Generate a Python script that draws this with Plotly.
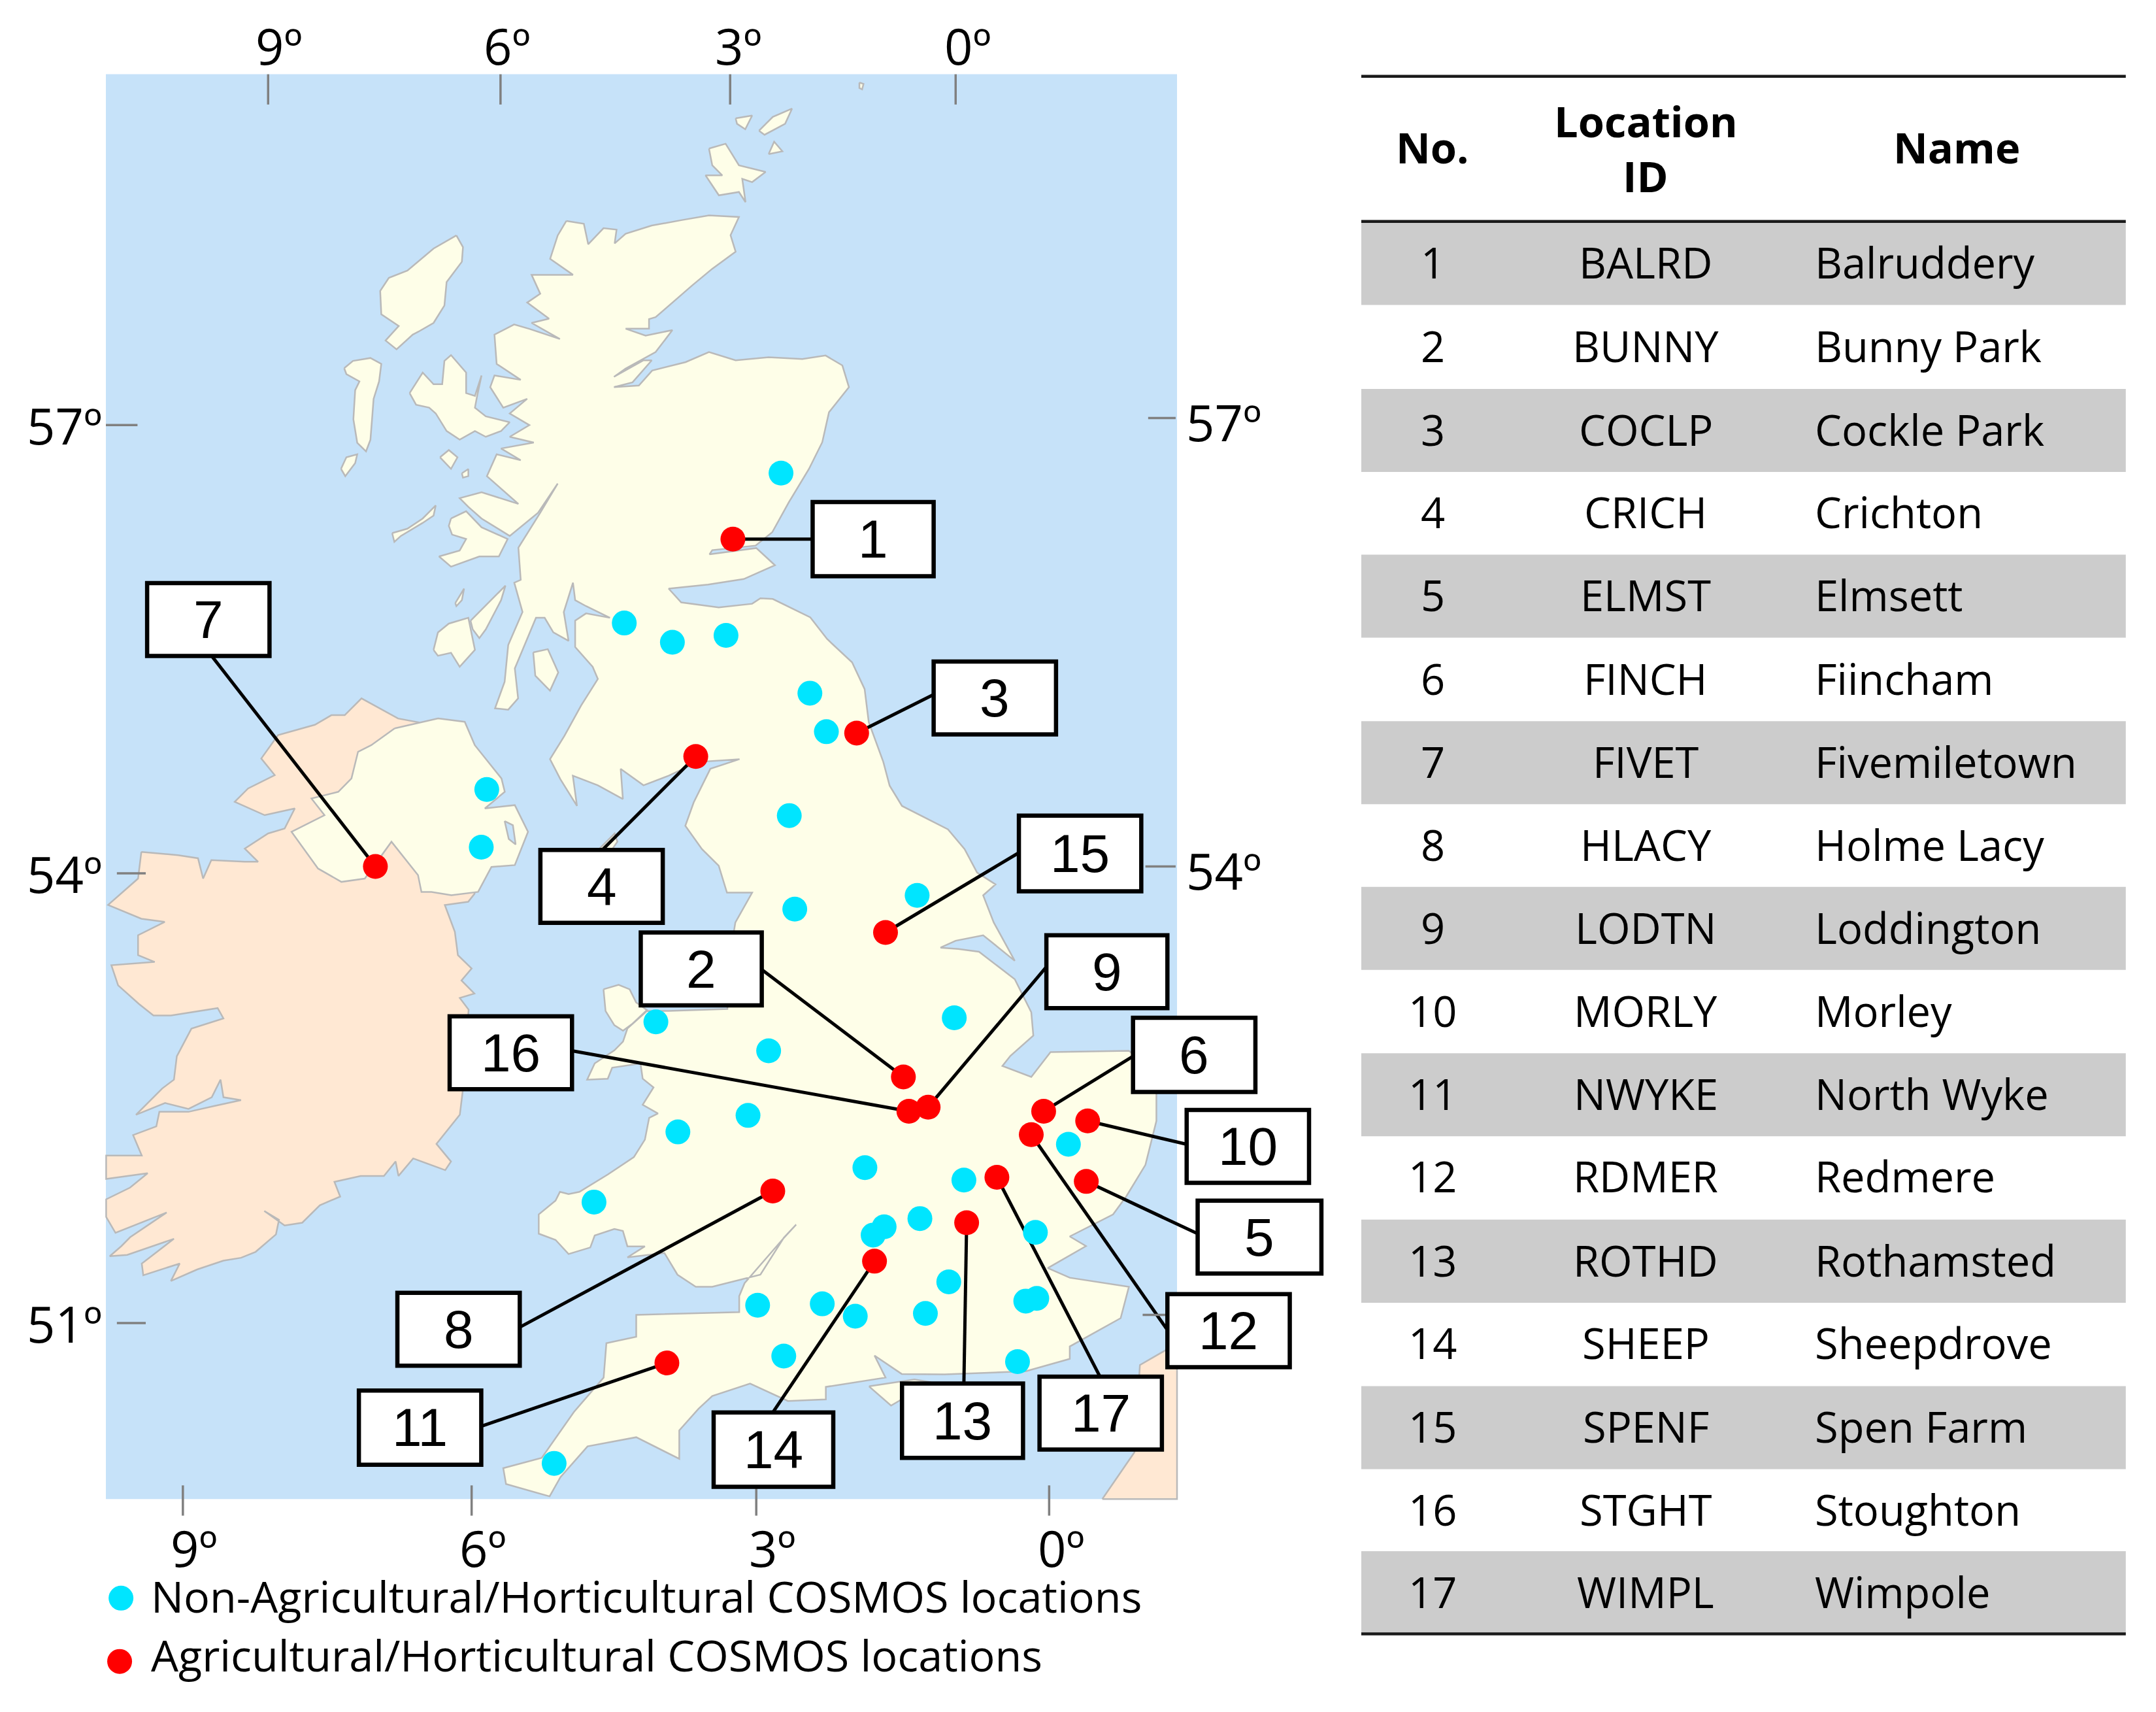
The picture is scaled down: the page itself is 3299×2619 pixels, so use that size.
import plotly.graph_objects as go

# everything is measured in picture units, 1 unit = 2.104 px of the 3299 x 2619 picture
W, H = 3283, 2603
UNIT = 2.104
OFFSET = 8 / UNIT  # the page keeps an 8 px margin around the figure

SEA = "#c6e2f9"
LAND = "#fefee8"
OTHER_LAND = "#ffe8d3"
COAST = "#b9b9b9"
TICK = "#808080"
CYAN = "#00e5ff"
RED = "#ff0000"
BOX_FONT = "Liberation Sans"
TEXT_FONT = "Open Sans"

mainland = [
    (411.9,160.6),(424.6,162.7),(427.8,177.6),(438.9,165.9),(448.4,167),(447,177),(455,170),(474,164),(496,160),
    (515.6,156.6),(537.4,157.8),(531.3,171),(535,183),(518,195.4),(503.4,207.5),(476.8,230.6),(472,232),(472,239),
    (455,239),(469.5,244),(489,240),(476.8,256),(455,268),(446.5,274),(468,262),(474,262),(460,278),(446.5,281.5),
    (464.6,280.3),(474.3,269.4),(498.6,263.3),(515.6,256),(535,262),(559,259.7),(583.5,261),(600.4,258.5),
    (612.6,265.7),(617.4,281.5),(602.9,299.7),(598,321.5),(588.3,341),(573.8,365),(561.6,387),(549.5,396.7),
    (518,400),(516,403),(550,398.5),(563.6,411),(540.9,421),(515,425),(486.3,428),(495.4,438),(522.7,441.6),
    (547,439),(553,435),(562,435.5),(589.3,448.9),(601.5,464.6),(619.7,481.6),(628.8,501),(631.8,525),(642.4,554),
    (647,571.3),(656,586),(689.4,603),(701.5,617.4),(710.6,634.4),(724,643),(715,651),(722.7,670.7),(738,698.6),
    (715,680),(695,684),(684,689),(697,690),(712,692),(738,712),(750,736),(751.5,753),(734.8,767.7),(729,775),
    (750,783),(764,765),(821,764),(841,779),(841,815),(833,847),(819,870),(809.5,883),(778,899),(789.8,906),
    (762,922),(778,929),(821,935.6),(815,958.4),(778,979),(778,988),(746,997),(687,999.3),(655.8,999),(636,985.6),
    (644,1001.6),(600.6,1008.4),(600.6,1017.5),(573,1018.6),(545.5,1006),(518,1015),(508,1024.3),(494,1040),
    (494,1060.7),(462.7,1045),(427.3,1051.6),(407.6,1074),(399.7,1088),(368,1079),(366,1067.5),(394,1060),
    (417.4,1026.6),(439,1001.6),(441,976.6),(462.7,972),(462.7,956),(537.6,954),(537.6,942.4),(541.5,933),
    (568.8,901.5),(579,890.4),(570,900),(553,926.8),(518,935.6),(506,935.6),(492.7,926.8),(483.2,911),(456.3,914.2),
    (469,906.2),(456.3,906.2),(453,895),(446.8,893.6),(432.5,898.3),(429.3,907),(413.5,911.8),(404,901.5),
    (391.8,897),(391.8,883),(404,873),(407.2,866.6),(413.5,868.2),(421.4,866.6),(442,854),(461,841.3),(469,828.6),
    (472.1,812.8),(478.5,809.6),(467.4,803.3),(475.3,790.6),(467.4,784.3),(465.8,773.2),(445.2,776.3),(442,784.3),
    (427,785),(432.5,773.2),(446.8,763.7),(453.1,757.3),(456.3,747.8),(470.5,735.1),(486.4,735),(529,733.6),
    (530,700),(534.8,670.7),(547,649),(528.7,649),(522.7,629.5),(510.5,617.4),(498.4,600.4),(504.5,583.4),
    (516.6,559),(537.8,552),(507.5,554),(486.3,564),(468,571),(451.4,559),(453,581),(434.8,571),(416.6,564),
    (419.6,586),(407.5,566.5),(400,552),(410.5,535),(422.6,513),(434.8,493.7),(431,484.8),(418.3,470.4),
    (418.3,451.3),(426.2,446),(443.6,449.2),(426.2,440.7),(418.3,436.4),(416.7,423.7),(410,445),(413.5,466),
    (402.4,459.8),(396.1,449.2),(389.8,449.2),(386.5,457),(374.4,486),(376.8,507.8),(369.6,516),(360,515),
    (367,495.7),(369.6,469),(380,445),(374,423.7),(378.7,421.6),(377,398.2),(392.9,372.8),(405.6,351.6),
    (391.3,372.8),(370.7,389.7),(350.2,377),(340.6,368.5),(334.3,362.2),(350.2,357.9),(377,366.4),(354.1,346.2),
    (361.2,330.3),(378.7,334.6),(364.4,326.1),(388.2,321.8),(370.7,317.6),(385,309.1),(370.7,300.6),(383.4,290),
    (366,296.4),(356.5,281.5),(359.6,273),(378.7,276.2),(361.2,264.6),(359.6,243.3),(373.9,235.9),(385,239.1),
    (407.2,246.5),(386.6,234.8),(399.3,231.7),(383.4,220),(392.9,213.6),(386.6,199.8),(416.7,199.8),(400.1,188.2),
    (405.6,171.2),(411.9,160.6),
]

islands = [
    # Lewis and Harris
    [(331.9,171.2),(336.7,179.7),(335.9,190.3),(324.8,205.1),(323.2,222.1),(315.3,234.8),(304.2,241.2),(300.2,243.3),
     (288.4,254),(280.4,247.6),(290,237),(277.3,228.5),(276.5,211.5),(282.8,202),(296.3,196.7),(315.3,180.7),(331.9,171.2)],
    # Uists
    [(250.3,267.7),(256.7,262.4),(269.4,260.3),(277.3,264.6),(275.7,277.3),(271.7,290),(270.9,300.6),(269.4,319.7),
     (266.2,328.2),(259.8,321.9),(257,304.9),(258.3,283.7),(261.4,277.3),(251.9,272),(250.3,267.7)],
    # Barra
    [(248,340.9),(251.9,332.5),(259.8,330.3),(258.3,336.7),(251.1,346.2),(248,340.9)],
    # Skye
    [(297.9,285.8),(307.4,270.9),(315.3,279.4),(321.6,279.4),(323.2,262.4),(328,258.2),(339,270.9),(339,285.8),
     (345.4,287.9),(350.2,273),(347,287.9),(345.4,296.4),(353.3,302.7),(370.7,307),(364.4,313.4),(353.3,317.6),
     (345.4,313.4),(334.3,319.7),(324.8,313.4),(316.9,300.6),(312.1,296.4),(302.6,294.3),(297.9,285.8)],
    # Rum, Eigg
    [(320,332.5),(326.4,327.2),(332.7,332.5),(328,340.9),(320,332.5)],
    [(335.9,344.1),(340.6,341),(340.6,346.2),(336.7,347.3),(335.9,344.1)],
    # Coll and Tiree
    [(285.2,387.6),(296.3,384.4),(307.4,377),(316.9,367.5),(315.3,374.9),(307.4,380.2),(291.5,389.7),(286.8,394),(285.2,387.6)],
    # Mull
    [(328,377),(339,371.7),(350.2,383.4),(369.2,391.9),(362.8,404.6),(348.6,404.6),(328,412),(319.3,404.6),(334.3,400.3),
     (339,391.9),(328.8,388.7),(326.4,382.3),(328,377)],
    # Colonsay, Islay, Jura, Arran
    [(331.1,438.5),(337.5,428),(335.9,436.4),(331.9,440.7),(331.1,438.5)],
    [(315.3,472.5),(318.5,459.8),(326.4,453.4),(340.6,449.2),(345.4,472.5),(334.3,484.8),(328,474.6),(318.5,476.8),(315.3,472.5)],
    [(342.2,451.3),(354.9,438.5),(367.6,425.8),(364.4,436.4),(353.3,457.6),(348.6,464),(343.8,457.6),(342.2,451.3)],
    [(387.8,474.3),(398.4,472),(406,488.9),(400,502.2),(389.3,491.3),(387.8,474.3)],
    # Man
    [(436,617),(447,606),(449,612),(440,625),(436,617)],
    # Anglesey
    [(438.9,719.3),(449.9,716.1),(457.9,719.3),(462.6,728.8),(470.5,734.4),(459.5,744.7),(453.1,749.4),(446.8,745.4),(440.4,735.1),(438.9,719.3)],
    # Wight
    [(632,1008),(665,1003),(677,1005),(648,1022),(632,1008)],
    # Orkney
    [(515.6,108),(527.7,104.5),(537.4,120.2),(556.8,125),(547,132.4),(539.8,130),(542.2,147),(537.4,139.6),(522.8,142),
     (513.1,127.5),(525.3,127.5),(518,120.2),(515.6,108)],
    [(535,86),(547,84),(542,94),(536,90),(535,86)],
    [(552,95),(562,85),(576,79),(571,90),(556,98),(552,95)],
    [(559,112),(563,103),(569,110),(559,112)],
    [(625,60),(628,61),(627,65),(625,64),(625,60)],
]

ireland = [
    (102.8,619.4),(129.5,621.8),(144,624),(147.7,638.8),(153.7,625.4),(178,626.6),(187.7,626.6),(178,617),(195,606),
    (207,602.4),(214.4,587.8),(192.5,592.7),(170.7,583),(180.4,573.3),(199.8,563.6),(190,551.5),(202.2,534.5),
    (229,527),(241,520),(250.7,520),(262.9,507.8),(289.5,522.4),(330,530),(360,600),(345,650),(340.5,655.7),
    (323.5,658),(330.8,677.6),(333,694.5),(343,704.2),(335.6,712.9),(345,722.4),(334.4,725.6),(340.8,734.1),
    (336.5,793.5),(334.4,810.5),(317.4,831.7),(328,844.5),(323.8,850.8),(300.5,842.3),(289.8,855),(287.7,844.5),
    (279.2,855),(262.3,855),(243.2,859.3),(247.4,870),(232.6,876.3),(219.8,889),(207,891),(192.2,880.5),(202.9,886.9),
    (200.7,897.5),(185.9,910.2),(175.3,914.5),(162.5,916.6),(143.4,923),(124.3,931.4),(130.7,918.7),(104.2,927.2),
    (103.1,918.7),(126.5,900.7),(92.5,912.4),(79.8,913.4),(88.3,906),(94.6,899.6),(121.2,881.6),(84,896.4),(77.2,884.8),
    (77.2,872),(94.6,863.5),(107.4,853),(77.2,857.2),(77.2,840.2),(92.5,840.2),(103.1,840.2),(96.8,825.3),(113.7,819),
    (115.9,808.4),(137.1,808.4),(156.2,804.1),(175.3,799.9),(162.5,797.8),(160.4,785),(154,797.8),(137.1,806.3),
    (120.1,802),(98.9,810.5),(118,791.4),(126.5,785),(128.6,768),(139.2,747.9),(162.5,740.5),(158.3,733),(124.3,738.4),
    (111.6,738.4),(101,729.9),(85.9,716.4),(81,701.8),(112.5,699.4),(100.4,694.5),(100.4,680),(119.8,670.3),(102.8,668),
    (78.6,658),(100.4,638.8),(102.8,619.4),
]

northern_ireland = [
    (287,529.6),(318.6,522.4),(338,524.8),(345.3,541.8),(364.7,566),(367.1,575.7),(352.6,587.8),(374.4,585.4),(384,604.8),
    (374.4,629),(357.4,630.3),(347.7,648.5),(328.3,650.9),(313.8,648.5),(306.5,648.5),(304,636.3),(284.7,612),(272.6,629),
    (265.3,638.8),(248.3,641.2),(231.3,631.5),(212,604.8),(236,592.7),(226.5,580.6),(246,575.7),(255.6,566),(260.4,546.6),
    (270,541.8),(287,529.6),
]

strangford = [(367,597),(373,600),(375,614),(370,610),(367,597)]

france = [(801.6,1090),(825,1056),(829,992.5),(848.9,981),(856,975),(856,1090),(801.6,1090)]

# COSMOS stations, picture units
other_x = [568,454,489,528,589,601,574,354,350,667,578,694,477,559,544,493,777,629,701,432,643,635,669,753,690,551,598,622,673,754,746,570,740,403]
other_y = [344,453,467,462,504,532,593,574,616,651,661,740,743,764,811,823,832,849,858,874,892,898,886,896,932,949,948,957,955,944,946,986,990,1064]

agri_no = [1,2,3,4,5,6,7,8,9,10,11,12,13,14,15,16,17]
agri_x = [533,657,623,506,790,759,273,562,675,791,485,750,703,636,644,661,725]
agri_y = [392,783,533,550,859,808,630,866,805,815,991,825,889,917,678,808,856]

# callout boxes, same order as agri_no
box_x0 = [591,466,679,393,871,824,107,289,761,863,261,849,656,519,741,327,756]
box_x1 = [679,554,768,482,961,913,196,378,849,952,350,938,744,606,830,416,845]
box_y0 = [365,678,481,618,873,740,424,940,680,807,1011,941,1006,1027,593,739,1001]
box_y1 = [419,731,534,671,926,794,477,993,733,860,1065,994,1060,1081,648,792,1054]
# where each leader meets its box
end_x = [591,554,679,438,871,824,154,378,761,863,350,849,701,562,741,416,800]
end_y = [392,705,505,618,897,768,477,965,703,832,1037,967,1006,1027,620,764,1001]

top_ticks = [195,364,531,695]
bottom_ticks = [133,343,550,763]
lon_labels = ["9º","6º","3º","0º"]
top_label_x = [203,369,537,704]
bottom_label_x = [141,351,562,772]
left_ticks = [309,635,962]
right_ticks = [304,630,956]
lat_labels = ["57º","54º","51º"]

row_no = [str(n) for n in agri_no]
row_id = ["BALRD","BUNNY","COCLP","CRICH","ELMST","FINCH","FIVET","HLACY","LODTN","MORLY","NWYKE","RDMER","ROTHD","SHEEP","SPENF","STGHT","WIMPL"]
row_name = ["Balruddery","Bunny Park","Cockle Park","Crichton","Elmsett","Fiincham","Fivemiletown","Holme Lacy","Loddington","Morley","North Wyke","Redmere","Rothamsted","Sheepdrove","Spen Farm","Stoughton","Wimpole"]
row_y = [191.5,252,313,373,433.5,494,554.5,615,675,735.5,796,856,917,977,1038,1098,1158]
row_height = 60.4


def land_trace(points, color):
    return go.Scatter(x=[p[0] for p in points], y=[p[1] for p in points], mode="lines", fill="toself",
                      fillcolor=color, line=dict(color=COAST, width=2.5), hoverinfo="skip", showlegend=False)


fig = go.Figure()
fig.add_trace(land_trace(ireland, OTHER_LAND))
fig.add_trace(land_trace(france, OTHER_LAND))
fig.add_trace(land_trace(northern_ireland, LAND))
fig.add_trace(land_trace(strangford, SEA))
fig.add_trace(land_trace(mainland, LAND))
for isle in islands:
    fig.add_trace(land_trace(isle, LAND))

# leaders go under the dots
for i in range(len(agri_no)):
    fig.add_trace(go.Scatter(x=[agri_x[i], end_x[i]], y=[agri_y[i], end_y[i]], mode="lines",
                             line=dict(color="black", width=5), hoverinfo="skip", showlegend=False))

fig.add_trace(go.Scatter(x=other_x + [88], y=other_y + [1162], mode="markers",
                         marker=dict(color=CYAN, size=38), name="Non-Agricultural/Horticultural COSMOS locations", showlegend=False))
fig.add_trace(go.Scatter(x=agri_x + [87], y=agri_y + [1208], mode="markers",
                         marker=dict(color=RED, size=38), name="Agricultural/Horticultural COSMOS locations", showlegend=False))

shapes = [dict(type="rect", x0=77, x1=856, y0=54, y1=1090, fillcolor=SEA, line_width=0, layer="below")]


def tick(x0, y0, x1, y1):
    shapes.append(dict(type="line", x0=x0, x1=x1, y0=y0, y1=y1, line=dict(color=TICK, width=3.5), layer="above"))


for x in top_ticks:
    tick(x, 54, x, 76)
for x in bottom_ticks:
    tick(x, 1080, x, 1102)
tick(77, 309, 100, 309)
tick(85, 635, 106, 635)
tick(85, 962, 106, 962)
tick(835, 304, 855, 304)
tick(833, 630, 855, 630)
tick(831, 956, 850, 956)

for i in range(len(agri_no)):
    shapes.append(dict(type="rect", x0=box_x0[i], x1=box_x1[i], y0=box_y0[i], y1=box_y1[i], fillcolor="white",
                       line=dict(color="black", width=6.5), layer="above"))

# table bands and rules
for i in range(0, len(row_y), 2):
    shapes.append(dict(type="rect", x0=990, x1=1546, y0=row_y[i] - row_height / 2, y1=row_y[i] + row_height / 2,
                       fillcolor="#cccccc", line_width=0, layer="below"))
for y in [55.5, 161, 1188]:
    shapes.append(dict(type="line", x0=990, x1=1546, y0=y, y1=y, line=dict(color="#1a1a1a", width=4.5), layer="above"))


def label(x, y, text, size, family=TEXT_FONT, anchor="center"):
    fig.add_annotation(x=x, y=y, text=text, showarrow=False, xanchor=anchor, yanchor="middle",
                       font=dict(family=family, size=size, color="black"))


for i in range(len(agri_no)):
    label((box_x0[i] + box_x1[i]) / 2, (box_y0[i] + box_y1[i]) / 2, row_no[i], 82, BOX_FONT)

for i in range(4):
    label(top_label_x[i], 33, lon_labels[i], 76)
    label(bottom_label_x[i], 1125, lon_labels[i], 76)
for i in range(3):
    label(47, left_ticks[i], lat_labels[i], 76)
for i in range(2):
    label(890, right_ticks[i] + 3, lat_labels[i], 76)

label(109, 1160, "Non-Agricultural/Horticultural COSMOS locations", 66.5, TEXT_FONT, "left")
label(109, 1203, "Agricultural/Horticultural COSMOS locations", 66.5, TEXT_FONT, "left")

label(1042, 107, "<b>No.</b>", 65)
label(1197, 88, "<b>Location</b>", 65)
label(1197, 128, "<b>ID</b>", 65)
label(1423, 107, "<b>Name</b>", 65)
for i in range(len(row_y)):
    label(1042, row_y[i] - 0.8, row_no[i], 65)
    label(1197, row_y[i] - 0.8, row_id[i], 65)
    label(1319, row_y[i] - 0.8, row_name[i], 65, TEXT_FONT, "left")

fig.update_layout(width=W, height=H, margin=dict(l=0, r=0, t=0, b=0), paper_bgcolor="white", plot_bgcolor="white",
                  shapes=shapes, showlegend=False)
fig.update_xaxes(range=[OFFSET, OFFSET + W / UNIT], visible=False, fixedrange=True)
fig.update_yaxes(range=[OFFSET + H / UNIT, OFFSET], visible=False, fixedrange=True)

fig.write_html("out.html")
